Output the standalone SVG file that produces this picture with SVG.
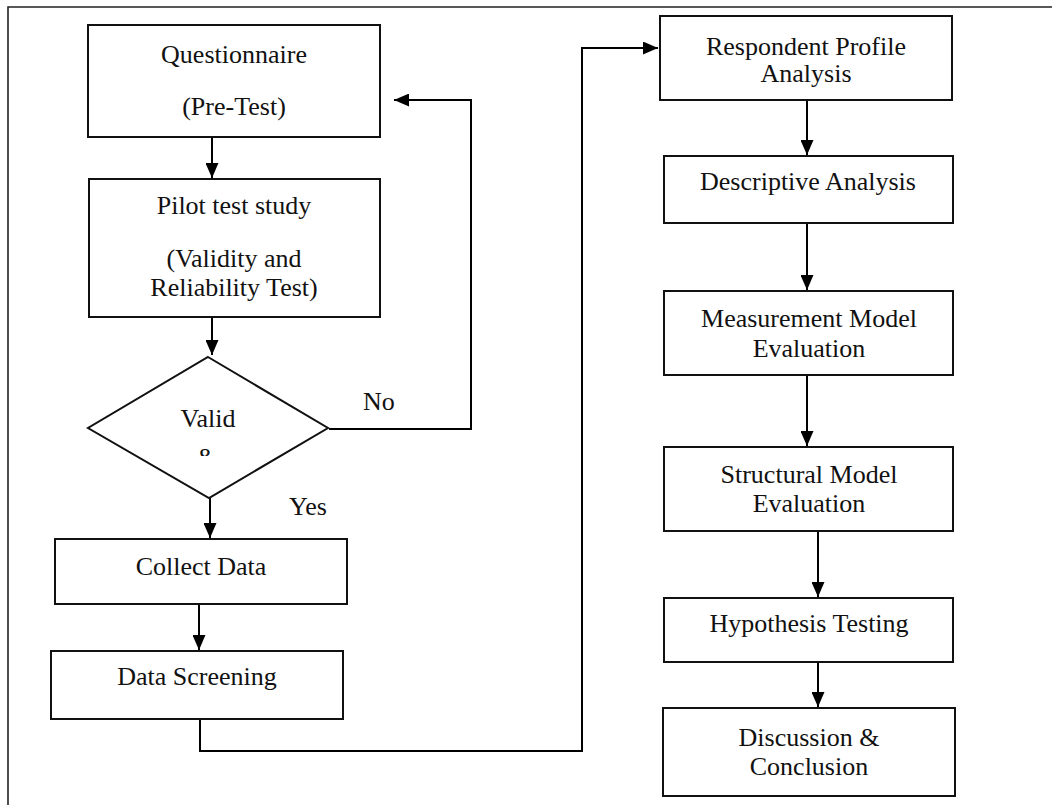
<svg xmlns="http://www.w3.org/2000/svg" width="1052" height="805" viewBox="0 0 1052 805">
  <style>
    .box { fill: #fff; stroke: #111; stroke-width: 2; }
    .edge { fill: none; stroke: #000; stroke-width: 2; }
    .frame { fill: none; stroke: #222; stroke-width: 1.6; }
    text { font-family: "Liberation Serif", "Times New Roman", serif; font-size: 26px; fill: #111; }
    .c { text-anchor: middle; }
  </style>
  <defs>
    <marker id="arrow" markerUnits="userSpaceOnUse" markerWidth="15" markerHeight="13" refX="15" refY="6.5" orient="auto">
      <path d="M0,0 L15,6.5 L0,13 Z" fill="#000"/>
    </marker>
    <clipPath id="diamondClip">
      <rect x="150" y="430" width="120" height="26"/>
    </clipPath>
  </defs>

  <rect width="1052" height="805" fill="#fff"/>

  <!-- page frame (left and top edges) -->
  <path class="frame" d="M8,805 V7 H1052"/>

  <g id="connectors">
    <path class="edge" d="M212,137 V178" marker-end="url(#arrow)"/>
    <path class="edge" d="M212,317 V355" marker-end="url(#arrow)"/>
    <path class="edge" d="M329,429 H471 V100 H394" marker-end="url(#arrow)"/>
    <path class="edge" d="M210,498 V538" marker-end="url(#arrow)"/>
    <path class="edge" d="M199,604 V650" marker-end="url(#arrow)"/>
    <path class="edge" d="M200,719 V751 H582 V48 H658" marker-end="url(#arrow)"/>
    <path class="edge" d="M807,100 V155" marker-end="url(#arrow)"/>
    <path class="edge" d="M807,223 V290" marker-end="url(#arrow)"/>
    <path class="edge" d="M807,375 V446" marker-end="url(#arrow)"/>
    <path class="edge" d="M818,531 V597" marker-end="url(#arrow)"/>
    <path class="edge" d="M818,662 V707" marker-end="url(#arrow)"/>
    <text x="363" y="410">No</text>
    <text x="289" y="515">Yes</text>
  </g>

  <g id="questionnaire">
    <rect class="box" x="88" y="25" width="292" height="112"/>
    <text class="c" x="234" y="63">Questionnaire</text>
    <text class="c" x="234" y="115">(Pre-Test)</text>
  </g>

  <g id="pilot">
    <rect class="box" x="89" y="179" width="291" height="138"/>
    <text class="c" x="234" y="214">Pilot test study</text>
    <text class="c" x="234" y="267">(Validity and</text>
    <text class="c" x="234" y="296">Reliability Test)</text>
  </g>

  <g id="decision">
    <polygon class="box" points="208,357 328,428 209,498 88,428"/>
    <text class="c" x="208" y="427">Valid</text>
    <text class="c" x="207" y="466" clip-path="url(#diamondClip)">&amp;</text>
  </g>

  <g id="collect">
    <rect class="box" x="55" y="539" width="292" height="65"/>
    <text class="c" x="201" y="575">Collect Data</text>
  </g>

  <g id="screening">
    <rect class="box" x="51" y="651" width="292" height="68"/>
    <text class="c" x="197" y="685">Data Screening</text>
  </g>

  <g id="respondent">
    <rect class="box" x="660" y="16" width="292" height="84"/>
    <text class="c" x="806" y="55">Respondent Profile</text>
    <text class="c" x="806" y="82">Analysis</text>
  </g>

  <g id="descriptive">
    <rect class="box" x="664" y="156" width="289" height="67"/>
    <text class="c" x="808" y="190">Descriptive Analysis</text>
  </g>

  <g id="measurement">
    <rect class="box" x="664" y="291" width="289" height="84"/>
    <text class="c" x="809" y="327">Measurement Model</text>
    <text class="c" x="809" y="357">Evaluation</text>
  </g>

  <g id="structural">
    <rect class="box" x="664" y="447" width="289" height="84"/>
    <text class="c" x="809" y="483">Structural Model</text>
    <text class="c" x="809" y="512">Evaluation</text>
  </g>

  <g id="hypothesis">
    <rect class="box" x="664" y="598" width="289" height="64"/>
    <text class="c" x="809" y="632">Hypothesis Testing</text>
  </g>

  <g id="discussion">
    <rect class="box" x="663" y="708" width="292" height="88"/>
    <text class="c" x="809" y="746">Discussion &amp;</text>
    <text class="c" x="809" y="775">Conclusion</text>
  </g>
</svg>
